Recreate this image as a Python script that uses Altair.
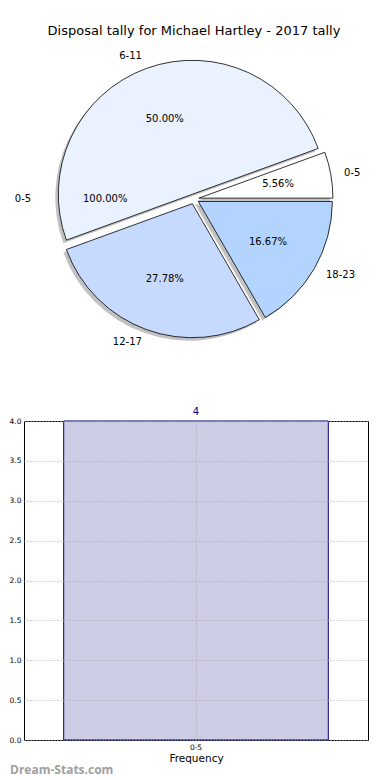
import math
import altair as alt
import pandas as pd

# ---------------- data ----------------
TITLE = "Disposal tally for Michael Hartley - 2017 tally"
pie_labels = ["0-5", "6-11", "12-17", "18-23"]
pie_values = [1, 9, 5, 3]
pie_colors = ["#FFFFFF", "#EAF2FF", "#C6D9FF", "#B3D4FF"]

overlay_labels = ["0-5"]
overlay_values = [4]

bar_categories = ["0-5"]
bar_values = [4]
y_ticks = [0.0, 0.5, 1.0, 1.5, 2.0, 2.5, 3.0, 3.5, 4.0]

X_TITLE = "Frequency"
WATERMARK = "Dream-Stats.com"

# ---------------- layout constants ----------------
FONT = "DejaVu Sans"
PLOT_W = 344
PIE_H = 400
BAR_H = 319
CX, CY = 170, 191          # pie centre inside the top panel
R = 134                    # pie radius
R2 = 148                   # radius of the overlaid single-slice pie (texts only)
EXPLODE = 5
SHADOW = 3

theta_scale = alt.Scale(domain=[0, 1], range=[math.pi / 2, math.pi / 2 + 2 * math.pi], reverse=True)


def polar(df, explode):
    return (
        alt.Chart(df)
        .transform_joinaggregate(total="sum(value)")
        .transform_window(cum="sum(value)", sort=[alt.SortField("idx")], frame=[None, 0])
        .transform_calculate(
            f0="(datum.cum - datum.value) / datum.total",
            f1="datum.cum / datum.total",
            fm="(datum.cum - datum.value / 2) / datum.total",
            ang="2 * PI * (datum.cum - datum.value / 2) / datum.total",
        )
        .transform_calculate(
            px=f"{CX} + {explode} * cos(datum.ang)",
            py=f"{CY} - {explode} * sin(datum.ang)",
            pct="format(100 * datum.value / datum.total, '.2f') + '%'",
            side="cos(datum.ang) >= 0 ? 'R' : 'L'",
        )
    )


pie_df = pd.DataFrame({"label": pie_labels, "value": pie_values, "idx": list(range(len(pie_labels)))})
ov_df = pd.DataFrame({"label": overlay_labels, "value": overlay_values, "idx": list(range(len(overlay_labels)))})

pos = dict(
    x=alt.X("px:Q", scale=None, axis=None),
    y=alt.Y("py:Q", scale=None, axis=None),
)

base = polar(pie_df, EXPLODE)
ov = polar(ov_df, 0)

shadow = base.mark_arc(radius=R, color="#4d4d4d", opacity=0.35, xOffset=-SHADOW, yOffset=SHADOW).encode(
    theta=alt.Theta("f0:Q", scale=theta_scale), theta2="f1:Q", **pos
)
wedges = base.mark_arc(radius=R, stroke="black", strokeWidth=0.8).encode(
    theta=alt.Theta("f0:Q", scale=theta_scale),
    theta2="f1:Q",
    color=alt.Color("label:N", scale=alt.Scale(domain=pie_labels, range=pie_colors), legend=None),
    **pos,
)
lab_r = base.transform_filter("datum.side == 'R'").mark_text(
    radius=1.1 * R, align="left", baseline="middle", fontSize=10, font=FONT, color="black"
).encode(theta=alt.Theta("fm:Q", scale=theta_scale), text="label:N", **pos)
lab_l = base.transform_filter("datum.side == 'L'").mark_text(
    radius=1.1 * R, align="right", baseline="middle", fontSize=10, font=FONT, color="black"
).encode(theta=alt.Theta("fm:Q", scale=theta_scale), text="label:N", **pos)
pct = base.mark_text(
    radius=0.6 * R, align="center", baseline="middle", fontSize=10, font=FONT, color="black"
).encode(theta=alt.Theta("fm:Q", scale=theta_scale), text="pct:N", **pos)

ov_lab = ov.mark_text(
    radius=1.1 * R2, align="right", baseline="middle", fontSize=10, font=FONT, color="black"
).encode(theta=alt.Theta("fm:Q", scale=theta_scale), text="label:N", **pos)
ov_pct = ov.mark_text(
    radius=0.6 * R2, align="center", baseline="middle", fontSize=10, font=FONT, color="black"
).encode(theta=alt.Theta("fm:Q", scale=theta_scale), text="pct:N", **pos)

title = alt.Chart(pd.DataFrame({"t": [TITLE]})).mark_text(
    fontSize=13, font=FONT, color="black", align="center", baseline="alphabetic"
).encode(x=alt.value(CX), y=alt.value(27), text="t:N")

pie = alt.layer(shadow, wedges, lab_r, lab_l, pct, ov_lab, ov_pct, title).properties(
    width=PLOT_W, height=PIE_H, view=alt.ViewBackground(strokeWidth=0, strokeOpacity=0)
)

# ---------------- bar panel ----------------
bar_df = pd.DataFrame({"cat": bar_categories, "freq": bar_values})

x_enc = alt.X(
    "cat:N",
    scale=alt.Scale(paddingInner=0, paddingOuter=0.15),
    axis=alt.Axis(
        title=X_TITLE, titleFont=FONT, titleFontSize=10.5, titleFontWeight="normal", titleColor="black",
        titlePadding=3, labelFont=FONT, labelFontSize=7.5, labelColor="black", labelAngle=0,
        labelPadding=3, ticks=False, domain=False, grid=True, gridColor="#aaaaaa",
        gridDash=[1, 2], gridWidth=1, bandPosition=0.5, zindex=1,
    ),
)
y_enc = alt.Y(
    "freq:Q",
    scale=alt.Scale(domain=[0, 4], nice=False, zero=True),
    axis=alt.Axis(
        values=y_ticks, format=".1f", title=None, labelFont=FONT, labelFontSize=7.5, labelColor="black",
        labelPadding=3, ticks=False, domain=False, grid=True, gridColor="#aaaaaa",
        gridDash=[1, 2], gridWidth=1, zindex=1,
    ),
)

bars = alt.Chart(bar_df).mark_bar(fill="#CCCCE5", stroke="#000080", strokeWidth=1).encode(x=x_enc, y=y_enc)
val = alt.Chart(bar_df).mark_text(
    dy=-9, color="#000080", fontSize=10, font=FONT, baseline="middle"
).encode(x=x_enc, y=y_enc, text="freq:Q")
wm = alt.Chart(pd.DataFrame({"t": [WATERMARK]})).mark_text(
    align="left", baseline="middle", font="Open Sans", fontSize=12, fontWeight="bold", color="#a0a0a0"
).encode(x=alt.value(-14), y=alt.value(BAR_H + 30), text="t:N")

bar = alt.layer(bars, val, wm).properties(
    width=PLOT_W, height=BAR_H, view=alt.ViewBackground(stroke="black", strokeWidth=1)
)

chart = (
    alt.vconcat(pie, bar, spacing=13, bounds="flush")
    .properties(padding={"left": 0, "top": 0, "right": 0, "bottom": 0}, background="white")
    .configure_view(strokeWidth=0)
)

chart.save("out.html", embed_options={"renderer": "svg", "actions": False})
